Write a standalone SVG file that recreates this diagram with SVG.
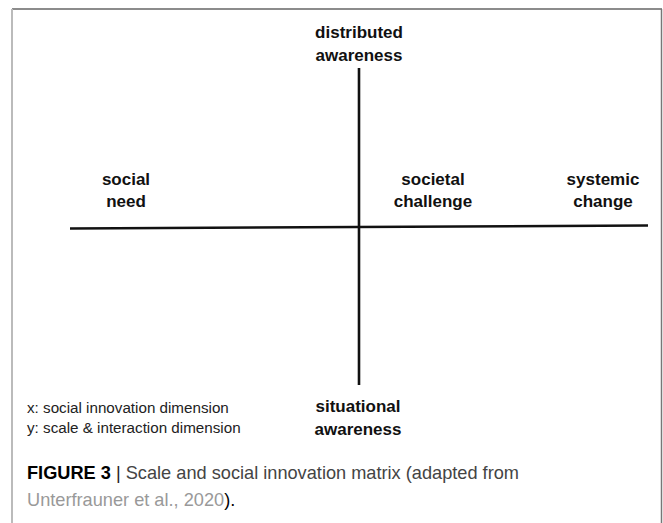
<svg xmlns="http://www.w3.org/2000/svg" width="663" height="523" viewBox="0 0 663 523">
<style>
.lbl{font-family:"Liberation Sans",Arial,sans-serif;font-weight:bold;font-size:17px;fill:#111;text-anchor:middle}
.leg{font-family:"Liberation Sans",Arial,sans-serif;font-size:15.2px;fill:#222}
.cap{font-family:"Liberation Sans",Arial,sans-serif;font-size:18.2px;fill:#444}
.axis{stroke:#111;stroke-width:2.6;fill:none;stroke-linecap:butt}
</style>
<rect width="663" height="523" fill="#fff"/>
<g id="frame">
<line x1="12" y1="9" x2="662" y2="9" stroke="#666" stroke-width="1.6"/>
<line x1="12" y1="9" x2="12" y2="523" stroke="#bbb" stroke-width="2"/>
<line x1="661.5" y1="9" x2="661.5" y2="523" stroke="#777" stroke-width="1.5"/>
</g>
<g id="connectors">
<line class="axis" x1="359" y1="68" x2="359" y2="385"/>
<line class="axis" x1="70" y1="228.5" x2="648" y2="225.5"/>
</g>
<g id="node-top"><text class="lbl" x="359" y="38">distributed</text><text class="lbl" x="359" y="61">awareness</text></g>
<g id="node-social-need"><text class="lbl" x="126" y="185">social</text><text class="lbl" x="126" y="207">need</text></g>
<g id="node-societal"><text class="lbl" x="433" y="185">societal</text><text class="lbl" x="433" y="207">challenge</text></g>
<g id="node-systemic"><text class="lbl" x="603" y="185">systemic</text><text class="lbl" x="603" y="207">change</text></g>
<g id="node-bottom"><text class="lbl" x="358" y="412">situational</text><text class="lbl" x="358" y="435">awareness</text></g>
<g id="legend">
<text class="leg" x="27" y="413">x: social innovation dimension</text>
<text class="leg" x="27" y="433">y: scale &amp; interaction dimension</text>
</g>
<g id="caption">
<text class="cap" x="27" y="479"><tspan font-weight="bold" fill="#000">FIGURE 3</tspan><tspan fill="#222"> | </tspan>Scale and social innovation matrix (adapted from</text>
<text class="cap" x="27" y="506"><tspan fill="#999">Unterfrauner et al., 2020</tspan><tspan fill="#000">).</tspan></text>
</g>
</svg>
